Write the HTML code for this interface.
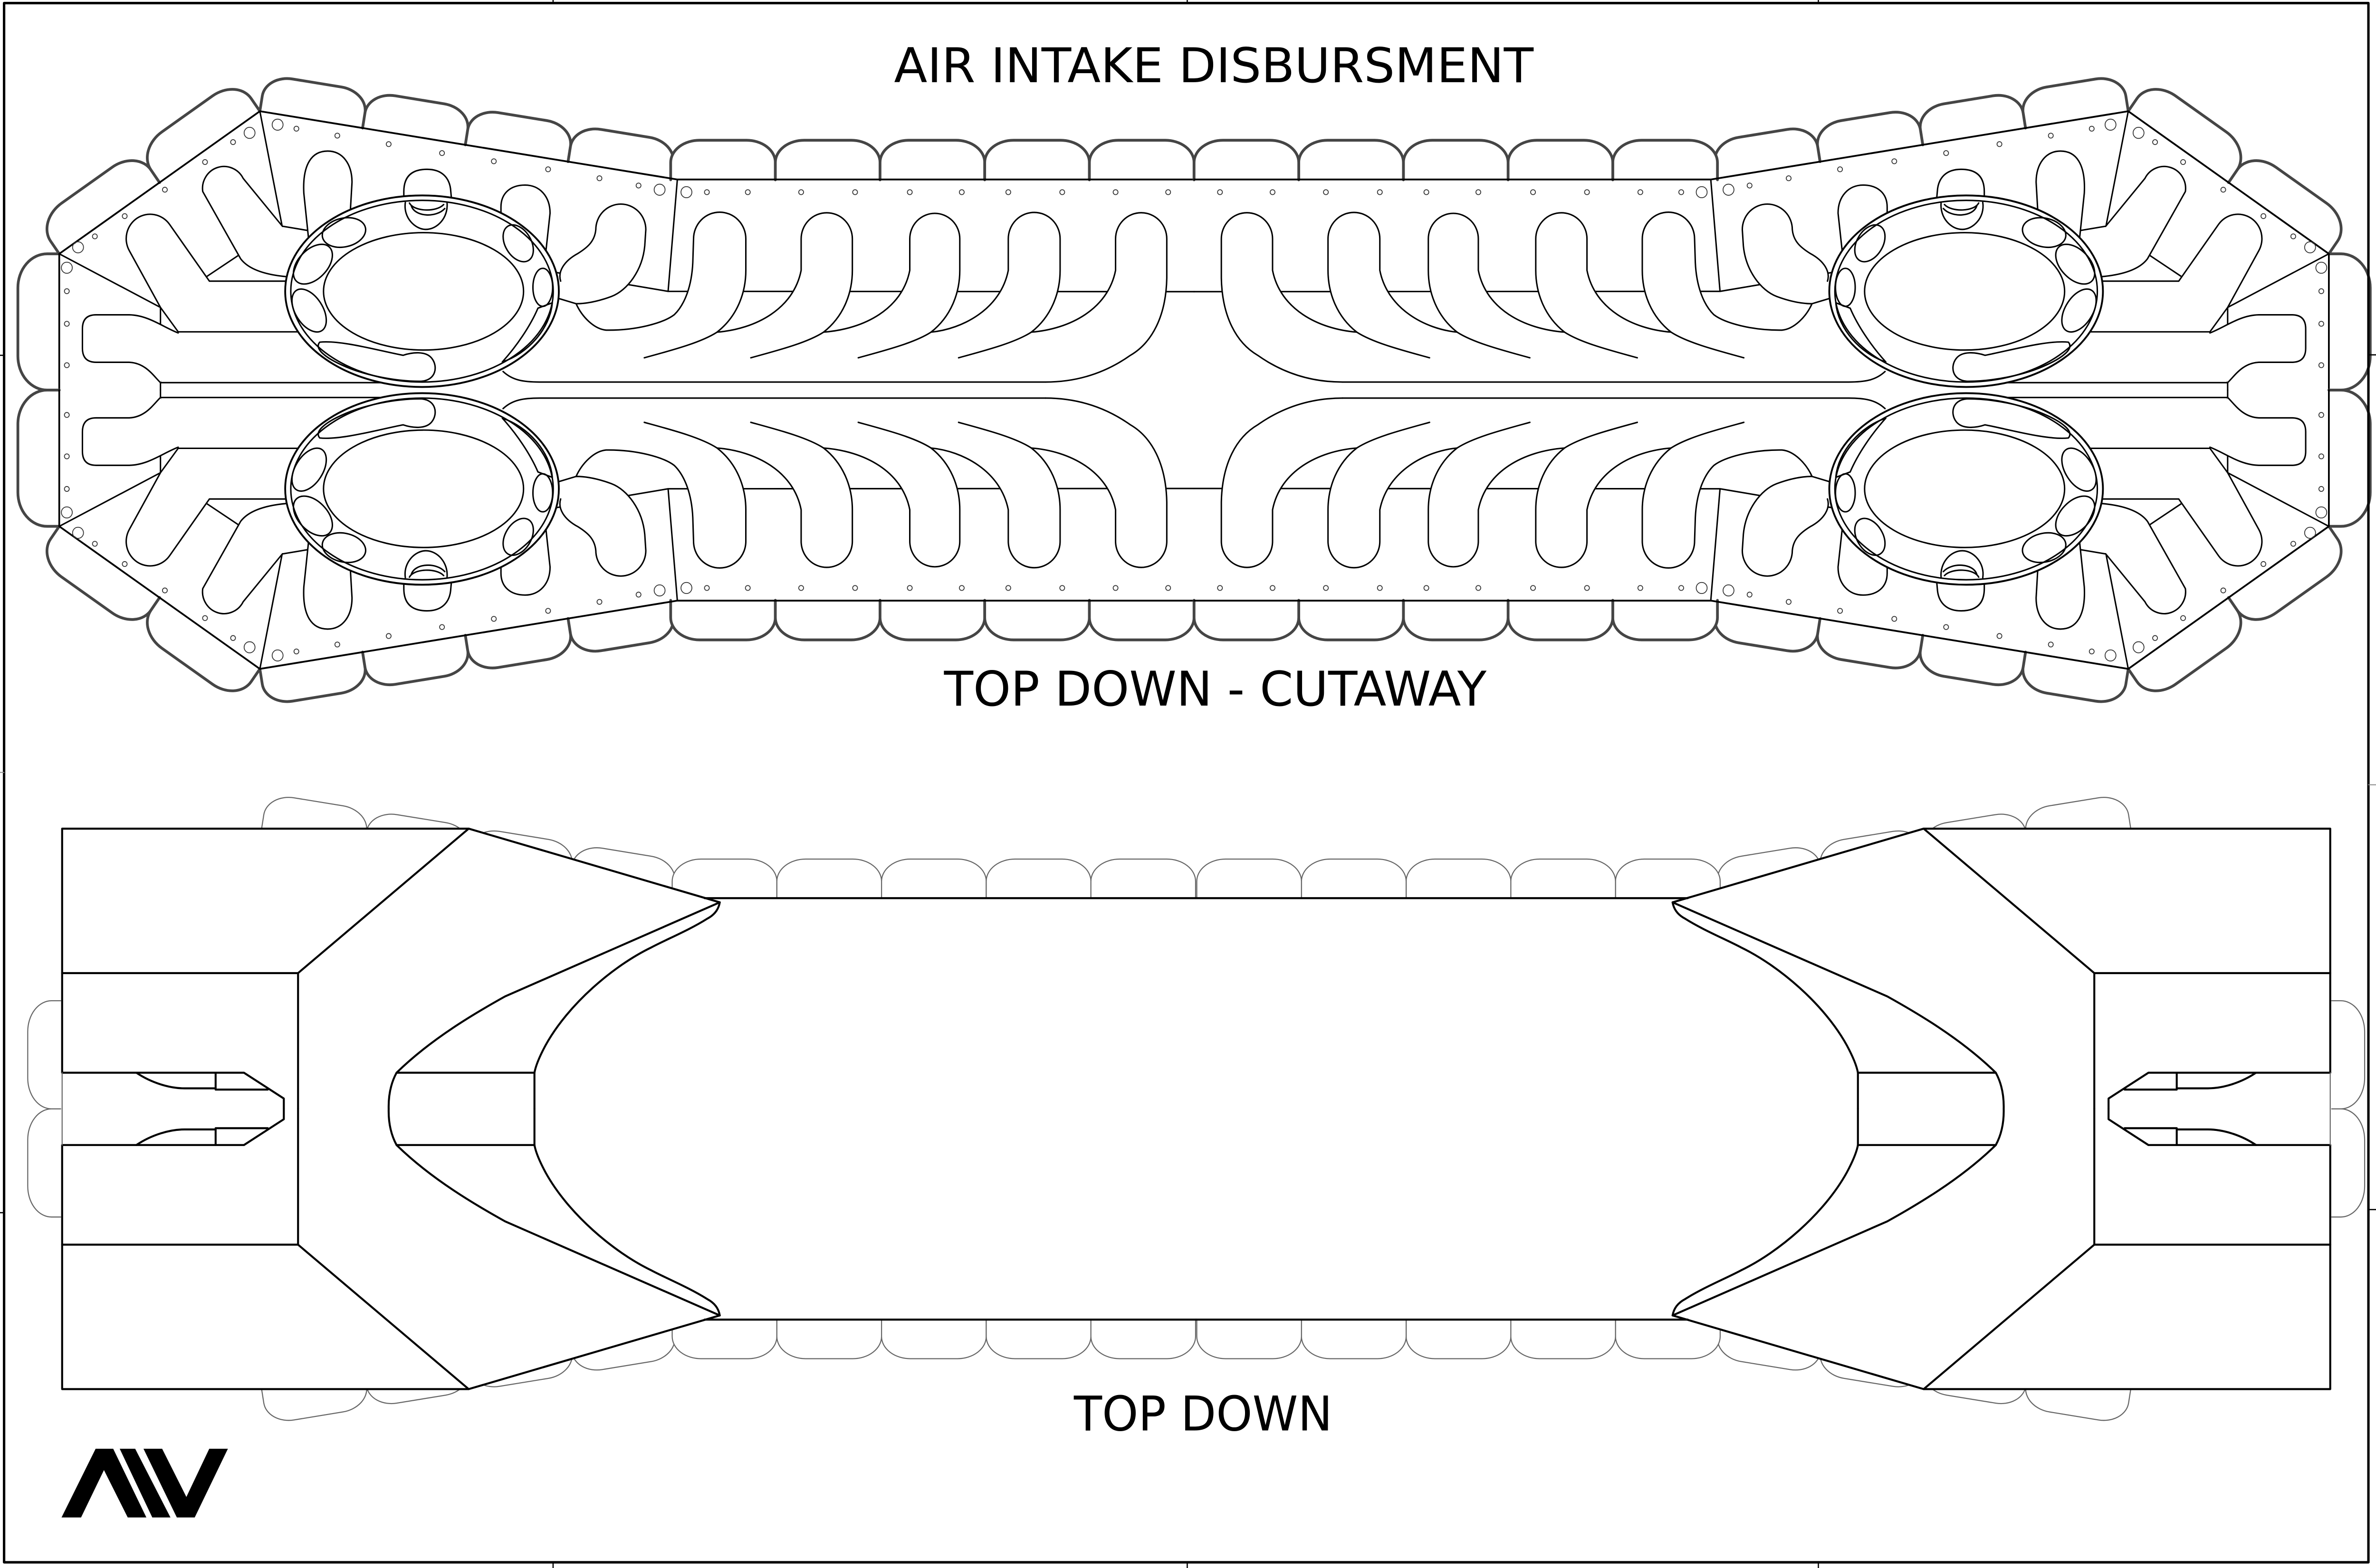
<!DOCTYPE html>
<html><head><meta charset="utf-8"><title>Air Intake Disbursment</title>
<style>html,body{margin:0;padding:0;background:#fff;width:100%;height:100%;overflow:hidden}svg{display:block;width:100vw;height:100vh}</style>
</head><body>
<svg xmlns="http://www.w3.org/2000/svg" xmlns:xlink="http://www.w3.org/1999/xlink" viewBox="0 0 1568 1015" preserveAspectRatio="none" stroke-linejoin="round" stroke-linecap="round">
<defs>
  <path id="tC" d="M0,0 V-11.2 A19,14.4 0 0 1 19,-25.6 H50.08 A19,14.4 0 0 1 69.08,-11.2 V0"/>
  <path id="tE" d="M0,0 V-10 A18,14 0 0 1 18,-24 H50.66 A18,14 0 0 1 68.66,-10 V0"/>
  <path id="tD" d="M0,0 V-10 A20,16 0 0 1 20,-26 H60.7 A20,16 0 0 1 80.7,-10 V0"/>
  <path id="tL" d="M0,0 V-8 A22,19.3 0 0 1 22,-27.3 H66.2 A22,19.3 0 0 1 88.2,-8 V0"/>
  <path id="tB" d="M0,0 V-6 A20,15.7 0 0 1 20,-21.7 H50 A20,15.7 0 0 1 70,-6 V0"/>
  <g id="tT">
    <use xlink:href="#tE" transform="translate(171.5,72) rotate(9.11)"/>
    <use xlink:href="#tE" transform="translate(239.3,82.87) rotate(9.11)"/>
    <use xlink:href="#tE" transform="translate(307.1,93.74) rotate(9.11)"/>
    <use xlink:href="#tE" transform="translate(374.9,104.61) rotate(9.11)"/>
    <use xlink:href="#tC" transform="translate(442.6,116.4)"/>
    <use xlink:href="#tC" transform="translate(511.68,116.4)"/>
    <use xlink:href="#tC" transform="translate(580.76,116.4)"/>
    <use xlink:href="#tC" transform="translate(649.84,116.4)"/>
    <use xlink:href="#tC" transform="translate(718.92,116.4)"/>
  </g>
  <g id="tDg">
    <use xlink:href="#tD" transform="translate(39.1,164.3) rotate(-34.88)"/>
    <use xlink:href="#tD" transform="translate(105.3,118.15) rotate(-34.88)"/>
  </g>

  <!-- cutaway: top-left quarter -->
  <g id="cQ">
    <g fill="#fff" stroke="#454545" stroke-width="1.8">
      <use xlink:href="#tDg"/>
      <use xlink:href="#tT"/>
      <use xlink:href="#tL" transform="translate(39.1,252.5) rotate(-90)"/>
    </g>
    <path d="M39.1,252.5 V164.3 L171.5,72 L447,116.2 H788" fill="none" stroke="#000" stroke-width="1.15"/>
    <g fill="none" stroke="#000" stroke-width="0.95">
      <path d="M39.1,164.3 L105.9,199 M171.5,72 L186.2,146.4 M447,116.2 L440.9,188.6 M105.9,199 L186.2,146.4 L440.9,188.6 L788,188.8 M105.9,199 V252.5 M105.9,247.7 H290"/>
    </g>
    <g fill="#fff" stroke="#000" stroke-width="0.95">
      <path d="M117.6,215.5 C108,212 98,204 85.3,203.8 H63.4 Q54.4,203.8 54.4,212.8 V225.5 Q54.4,234.5 63.4,234.5 H85.3 C96,235 101,243 105.9,247.7"/>
      <path d="M370,182 C368,176 372,169 381.5,164 C388,160 392.5,156 393.2,148.6 A16.5,16.5 0 0 1 426.2,148.6 L425.5,159.1 C424,175 414,188 403.5,191.9 C395,195 387,196.6 380.2,196.6 L368,193"/>
      <path d="M680.6,215 C706.2,213 731.2,200 736.2,175 L736.2,154.6 A16.9,16.9 0 0 1 770,154.6 L770,180 C769.5,205 760,222 746,230 C733,239 715,247.3 690,247.3"/>
      <path d="M614.4,215 C635.4,213 660.4,200 665.4,175 L665.4,154.6 A17.1,17.1 0 0 1 699.6,154.6 L699.6,175 C699.6,190 693.6,205 680.6,215 C669.6,222 649.6,227 632.6,231.6"/>
      <path d="M543.5,215 C570.4,213 595.4,200 600.4,175 L600.4,154.6 A16.5,16.5 0 0 1 633.4,154.6 L633.4,175 C633.4,190 627.4,205 614.4,215 C603.4,222 583.4,227 566.4,231.6"/>
      <path d="M473.2,215 C498.7,213 523.7,200 528.7,175 L528.7,154.6 A16.9,16.9 0 0 1 562.5,154.6 L562.5,175 C562.5,190 556.5,205 543.5,215 C532.5,222 512.5,227 495.5,231.6"/>
      <path d="M380.2,196.6 C384,205 392,213 400,213.7 C420,214 438,209 445,203.7 C452,197 456.5,185 457.2,170 L457.7,154.6 A17.25,17.25 0 0 1 492.2,154.6 L492.2,175 C492.2,190 486.2,205 473.2,215 C462.2,222 442.2,227 425.2,231.6"/>
      <path d="M690,247.3 H358 C345,247.5 338,246 332,240.5" fill="none"/>
      <path d="M330.6,142 V134 C330.6,125 337,119.8 346.5,119.8 C356,119.8 363,127 363,138 L360,165"/>
      <path d="M266.5,135 V124 C266.5,114 272,109.6 281.8,109.6 C291.5,109.6 297,115 297.5,124 L298.5,135"/>
      <path d="M204,158 L200.5,125 C199.5,106 206,97.8 216.2,97.8 C226,97.8 232.3,106 232.3,118 L231,140"/>
      <path d="M192,179.3 C172,178 163,173 158.8,167.5 L133.8,124 A14.2,14.2 0 0 1 160.5,115.5 L186.4,146.5"/>
      <path d="M192,182 H138.2 L111.8,145.1 A15.8,15.8 0 0 0 85.3,162.2 L105.9,199 L117.6,214.8 H200"/>
    </g>
    <g stroke="#000" fill="none" stroke-width="0.95">
      <ellipse cx="278.5" cy="188.5" rx="90.3" ry="62" fill="#fff" stroke-width="1.2"/>
      <ellipse cx="278.5" cy="188.5" rx="86.6" ry="58.8"/>
      <ellipse cx="279.5" cy="188.6" rx="66" ry="38"/>
      <path d="M267.5,131 C266,141 274,148.5 281,148.5 C288.5,148.5 296,141 295,131"/>
      <path d="M270.2,131.4 C273,137 288,137.5 292.8,132.4"/>
      <path d="M271.5,133.4 C274,140.5 288,141 293.5,135"/>
      <ellipse cx="227" cy="150.5" rx="14.5" ry="9.3" transform="rotate(-12 227 150.5)"/>
      <ellipse cx="206.5" cy="171" rx="15.5" ry="9.5" transform="rotate(-45 206.5 171)"/>
      <ellipse cx="204" cy="201" rx="15.5" ry="9" transform="rotate(57 204 201)"/>
      <path d="M211,221.5 C225,220 250,227 266,230 C272,228 281,227 285,232 C289,237 288,246 278,246.8 C262,247 240,243 225,236 C216,232 207,226 211,221.5 Z"/>
      <ellipse cx="342" cy="157.5" rx="13" ry="8.5" transform="rotate(58 342 157.5)"/>
      <ellipse cx="358.2" cy="186" rx="6.5" ry="12.3"/>
      <path d="M364.5,196 C363,213 348,229 331.5,234.3 C341,224 350,211 355,199.5 Z"/>
    </g>
    <g fill="none" stroke="#333" stroke-width="0.55">
      <circle cx="183.2" cy="80.7" r="3.6"/><circle cx="164.7" cy="86" r="3.6"/>
      <circle cx="51.5" cy="160.1" r="3.6"/><circle cx="44.1" cy="173.3" r="3.6"/>
      <circle cx="435.3" cy="122.8" r="3.6"/><circle cx="453" cy="124.4" r="3.6"/>
      <circle cx="195.6" cy="83.3" r="1.6"/><circle cx="222.6" cy="87.8" r="1.6"/>
      <circle cx="256.5" cy="93.3" r="1.6"/><circle cx="291.7" cy="99.1" r="1.6"/>
      <circle cx="325.9" cy="104.4" r="1.6"/><circle cx="361.7" cy="109.6" r="1.6"/>
      <circle cx="395.6" cy="115.4" r="1.6"/><circle cx="421.4" cy="120.1" r="1.6"/>
      <circle cx="153.8" cy="92" r="1.6"/><circle cx="135.3" cy="104.9" r="1.6"/>
      <circle cx="108.8" cy="122.8" r="1.6"/><circle cx="82.3" cy="139.9" r="1.6"/>
      <circle cx="62.6" cy="153" r="1.6"/>
      <circle cx="44.1" cy="188.5" r="1.6"/><circle cx="44.1" cy="209.6" r="1.6"/><circle cx="44.1" cy="236.4" r="1.6"/>
      <circle cx="466.5" cy="124.4" r="1.6"/><circle cx="493.5" cy="124.4" r="1.6"/>
      <circle cx="528.7" cy="124.4" r="1.6"/><circle cx="564.3" cy="124.4" r="1.6"/>
      <circle cx="600.4" cy="124.4" r="1.6"/><circle cx="634.7" cy="124.4" r="1.6"/>
      <circle cx="665.4" cy="124.4" r="1.6"/><circle cx="701" cy="124.4" r="1.6"/>
      <circle cx="736.2" cy="124.4" r="1.6"/><circle cx="770.9" cy="124.4" r="1.6"/>
    </g>
  </g>

  <!-- top-down view: top-left quarter -->
  <g id="bQ">
    <g fill="#fff" stroke="#666" stroke-width="0.7">
      <use xlink:href="#tT" transform="translate(1,465.3)"/>
      <use xlink:href="#tB" transform="translate(40,717.8) rotate(-90)"/>
    </g>
    <path fill="#fff" stroke="none" d="M41,717.8 V536.4 H309.3 L465,581.4 H789.4 V717.8 Z"/>
    <g fill="none" stroke="#000" stroke-width="1.3">
      <path d="M41,694.4 V536.4 H309.3 L475,584.1"/>
      <path d="M465,581.4 H789.4"/>
      <path d="M41,629.9 H196.7 L309.3,536.4 M196.7,629.9 V717.8"/>
      <path d="M41,694.4 H161 L187.3,711.1 V717.8"/>
      <path d="M142.3,694.4 V705.3 H176.7 M90,694.4 C100,701 112,704.5 121.7,704.5 H142.3"/>
      <path d="M475,584.1 L333.3,645 C315,655 285,672 261.7,694.4 C257.5,702 256.3,710 256.5,717.8"/>
      <path d="M261.7,694.4 H352.7 V717.8"/>
      <path d="M475,584.1 C474,590 470,593 466.7,594.7 C455,602 440,608 430,613.2 C405,625 375,650 360,676.7 C356,684 353.5,690 352.7,694.4"/>
    </g>
    <path d="M41,694.4 V717.8" stroke="#666" stroke-width="0.7" fill="none"/>
  </g>
</defs>

<rect x="0" y="0" width="1568" height="1015" fill="#fff"/>

<use xlink:href="#cQ"/>
<use xlink:href="#cQ" transform="translate(1576,0) scale(-1,1)"/>
<use xlink:href="#cQ" transform="translate(0,505) scale(1,-1)"/>
<use xlink:href="#cQ" transform="translate(1576,505) scale(-1,-1)"/>

<use xlink:href="#bQ"/>
<use xlink:href="#bQ" transform="translate(1578.8,0) scale(-1,1)"/>
<use xlink:href="#bQ" transform="translate(0,1435.6) scale(1,-1)"/>
<use xlink:href="#bQ" transform="translate(1578.8,1435.6) scale(-1,-1)"/>

<g font-family="'DejaVu Sans', 'Liberation Sans', sans-serif" font-size="31" fill="#000">
  <text x="590" y="53.2" textLength="422" lengthAdjust="spacingAndGlyphs">AIR INTAKE DISBURSMENT</text>
  <text x="623" y="456.7" textLength="358" lengthAdjust="spacingAndGlyphs">TOP DOWN - CUTAWAY</text>
  <text x="708.7" y="926" textLength="170.6" lengthAdjust="spacingAndGlyphs">TOP DOWN</text>
</g>

<g fill="#000">
  <polygon points="40.6,982.3 63.1,937.8 74.7,937.8 96.6,982.3 84.3,982.3 68.6,951.6 53.5,982.3"/>
  <polygon points="79,937.8 89.2,937.8 112.5,982.3 100.5,982.3"/>
  <polygon points="94.7,937.8 107,937.8 123,969 138.1,937.8 150.4,937.8 128.5,982.3 116.7,982.3"/>
</g>

<g fill="none" stroke="#000">
  <rect x="2.7" y="2" width="1560.3" height="1009.3" stroke-width="1.6"/>
  <path d="M365,0 V2 M783.5,0 V2 M1200,0 V2 M365,1011.3 V1015 M783.5,1011.3 V1015 M1200,1011.3 V1015 M0,230 H2.7 M0,785 H2.7 M1563,229.7 H1568 M1563,783 H1568" stroke-width="0.8"/>
  <path d="M0,500 H2.7 M1563,508 H1568" stroke="#888" stroke-width="0.6"/>
</g>
</svg>
</body></html>
